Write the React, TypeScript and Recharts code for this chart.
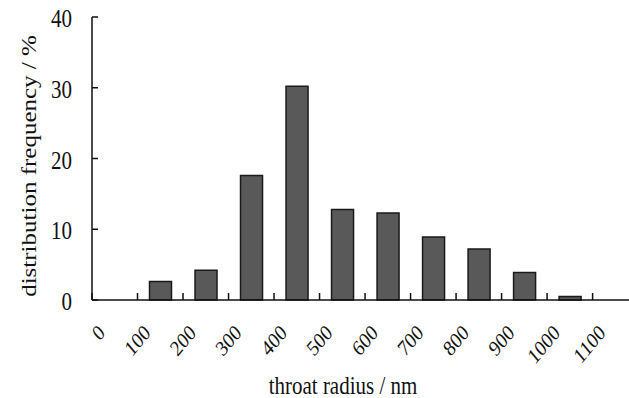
import { BarChart, Bar, XAxis, YAxis, Label } from 'recharts'

// throat radius bins (lower edge, nm) and their share of the distribution (%)
const binStarts = [100, 200, 300, 400, 500, 600, 700, 800, 900, 1000]
const frequency = [2.6, 4.2, 17.6, 30.2, 12.8, 12.3, 8.9, 7.2, 3.9, 0.5]
const xTicks = [0, 100, 200, 300, 400, 500, 600, 700, 800, 900, 1000, 1100]
const yTicks = [0, 10, 20, 30, 40]

// bars sit in the middle of each 100 nm bin
const data = binStarts.map((b, i) => ({ binMid: b + 50, frequency: frequency[i] }))

const FONT = '"Liberation Serif", "Times New Roman", serif'
const INK = '#111'
// the original figure is squeezed a little horizontally
const SQUEEZE = 0.84

function XTick({ x, y, payload }: any) {
  const ax = x + 14
  const ay = y + 34
  return (
    <g>
      <line x1={x} y1={y} x2={x} y2={y - 7} stroke={INK} strokeWidth={1.5} />
      <text
        x={0}
        y={0}
        textAnchor="end"
        transform={`translate(${ax}, ${ay}) scale(${SQUEEZE}, 1) rotate(-45)`}
        fontFamily={FONT}
        fontSize={22}
        fill={INK}
      >
        {payload.value}
      </text>
    </g>
  )
}

function YTick({ x, y, payload }: any) {
  return (
    <g>
      <line x1={x} y1={y} x2={x + 6} y2={y} stroke={INK} strokeWidth={1.5} />
      <text
        x={0}
        y={0}
        dy="0.36em"
        textAnchor="end"
        transform={`translate(${x - 20}, ${y + 1}) scale(${SQUEEZE}, 1)`}
        fontFamily={FONT}
        fontSize={25}
        fill={INK}
      >
        {payload.value}
      </text>
    </g>
  )
}

export default function App() {
  return (
    <div style={{ position: 'absolute', left: 0, top: 0, background: '#fff' }}>
      <BarChart width={629} height={398} data={data} margin={{ top: 17, right: 0, left: 0, bottom: 0 }}>
        <XAxis
          dataKey="binMid"
          type="number"
          domain={[0, 1180]}
          ticks={xTicks}
          interval={0}
          allowDataOverflow
          height={98}
          tickSize={0}
          tickMargin={0}
          tickLine={false}
          axisLine={{ stroke: INK, strokeWidth: 1.5 }}
          tick={<XTick />}
        >
          <Label
            content={() => (
              <text
                x={0}
                y={0}
                textAnchor="middle"
                transform={`translate(343, 394) scale(${SQUEEZE}, 1)`}
                fontFamily={FONT}
                fontSize={25}
                fill={INK}
              >
                throat radius / nm
              </text>
            )}
          />
        </XAxis>
        <YAxis
          type="number"
          domain={[0, 40]}
          ticks={yTicks}
          interval={0}
          width={92}
          tickSize={0}
          tickMargin={0}
          tickLine={false}
          axisLine={{ stroke: INK, strokeWidth: 1.5 }}
          tick={<YTick />}
        >
          <Label
            content={() => (
              <text
                x={0}
                y={0}
                textAnchor="middle"
                transform={`translate(36, 166) scale(${SQUEEZE}, 1) rotate(-90)`}
                fontFamily={FONT}
                fontSize={25}
                fill={INK}
              >
                distribution frequency / %
              </text>
            )}
          />
        </YAxis>
        <Bar
          dataKey="frequency"
          barSize={22}
          fill="#595959"
          stroke="#1a1a1a"
          strokeWidth={1.5}
          isAnimationActive={false}
        />
      </BarChart>
    </div>
  )
}
